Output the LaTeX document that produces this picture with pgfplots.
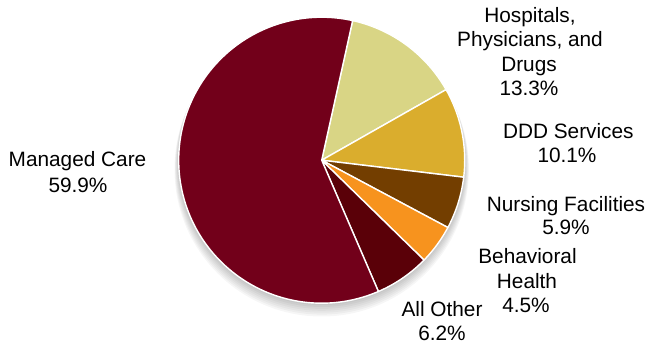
\documentclass[border=0pt]{standalone}
\usepackage{pgfplots}
\pgfplotsset{compat=1.18}
\usepackage{fontspec}
\setmainfont{Liberation Sans}
\definecolor{cManaged}{RGB}{114,0,26}
\definecolor{cHosp}{RGB}{217,213,133}
\definecolor{cDDD}{RGB}{218,173,45}
\definecolor{cNurs}{RGB}{115,62,0}
\definecolor{cBehav}{RGB}{247,147,30}
\definecolor{cOther}{RGB}{90,0,8}
% shares (percent)
\def\pHosp{13.3}
\def\pDDD{10.1}
\def\pNurs{5.9}
\def\pBehav{4.5}
\def\pOther{6.2}
\def\pManaged{59.9}
\pgfmathsetmacro\tot{\pHosp+\pDDD+\pNurs+\pBehav+\pOther+\pManaged}
\pgfmathsetmacro\sA{77.5}
\pgfmathsetmacro\sB{\sA-\pHosp/\tot*360}
\pgfmathsetmacro\sC{\sB-\pDDD/\tot*360}
\pgfmathsetmacro\sD{\sC-\pNurs/\tot*360}
\pgfmathsetmacro\sE{\sD-\pBehav/\tot*360}
\pgfmathsetmacro\sF{\sE-\pOther/\tot*360}
\pgfmathsetmacro\sG{\sA-360}
\def\cx{321.7}
\def\cy{184.8}
\def\rr{143}
\begin{document}
\begin{tikzpicture}
\path[use as bounding box] (0,0) rectangle (650pt,345pt);
\begin{axis}[at={(0,0)}, anchor=south west, scale only axis,
  width=650pt, height=345pt, xmin=0, xmax=650, ymin=0, ymax=345,
  hide axis, clip=false]
% soft shadow
\foreach \k in {1,...,7}{
  \edef\tmp{\noexpand\fill[black, opacity=0.035] (axis cs:\cx,{\cy-1.3*\k}) circle[radius={\rr+0.6*\k}];}
  \tmp
}
\pgfplotsset{every axis plot/.append style={draw=white, line width=1.4pt, line join=round, variable=\t, no markers}}
\addplot[fill=cHosp, domain=\sB:\sA, samples=60] ({\cx+\rr*cos(\t)},{\cy+\rr*sin(\t)}) -- (axis cs:\cx,\cy) -- cycle;
\addplot[fill=cDDD, domain=\sC:\sB, samples=50] ({\cx+\rr*cos(\t)},{\cy+\rr*sin(\t)}) -- (axis cs:\cx,\cy) -- cycle;
\addplot[fill=cNurs, domain=\sD:\sC, samples=30] ({\cx+\rr*cos(\t)},{\cy+\rr*sin(\t)}) -- (axis cs:\cx,\cy) -- cycle;
\addplot[fill=cBehav, domain=\sE:\sD, samples=30] ({\cx+\rr*cos(\t)},{\cy+\rr*sin(\t)}) -- (axis cs:\cx,\cy) -- cycle;
\addplot[fill=cOther, domain=\sF:\sE, samples=30] ({\cx+\rr*cos(\t)},{\cy+\rr*sin(\t)}) -- (axis cs:\cx,\cy) -- cycle;
\addplot[fill=cManaged, domain=\sG:\sF, samples=200] ({\cx+\rr*cos(\t)},{\cy+\rr*sin(\t)}) -- (axis cs:\cx,\cy) -- cycle;
% labels
\tikzset{lab/.style={anchor=base, inner sep=0pt, font=\fontsize{20.8}{25}\selectfont}}
\node[lab] at (axis cs:77.5,{345-167}) {Managed Care};
\node[lab] at (axis cs:78,{345-193}) {59.9\%};
\node[lab] at (axis cs:530,{345-22.7}) {Hospitals,};
\node[lab] at (axis cs:530,{345-46.7}) {Physicians, and};
\node[lab] at (axis cs:529,{345-71.7}) {Drugs};
\node[lab] at (axis cs:529,{345-95.7}) {13.3\%};
\node[lab] at (axis cs:568.3,{345-138.3}) {DDD Services};
\node[lab] at (axis cs:567,{345-162.7}) {10.1\%};
\node[lab] at (axis cs:566,{345-211.7}) {Nursing Facilities};
\node[lab] at (axis cs:566,{345-235}) {5.9\%};
\node[lab] at (axis cs:527.5,{345-264}) {Behavioral};
\node[lab] at (axis cs:527,{345-288.3}) {Health};
\node[lab] at (axis cs:526,{345-312.7}) {4.5\%};
\node[lab] at (axis cs:442,{345-316.7}) {All Other};
\node[lab] at (axis cs:442,{345-340}) {6.2\%};
\end{axis}
\end{tikzpicture}
\end{document}
